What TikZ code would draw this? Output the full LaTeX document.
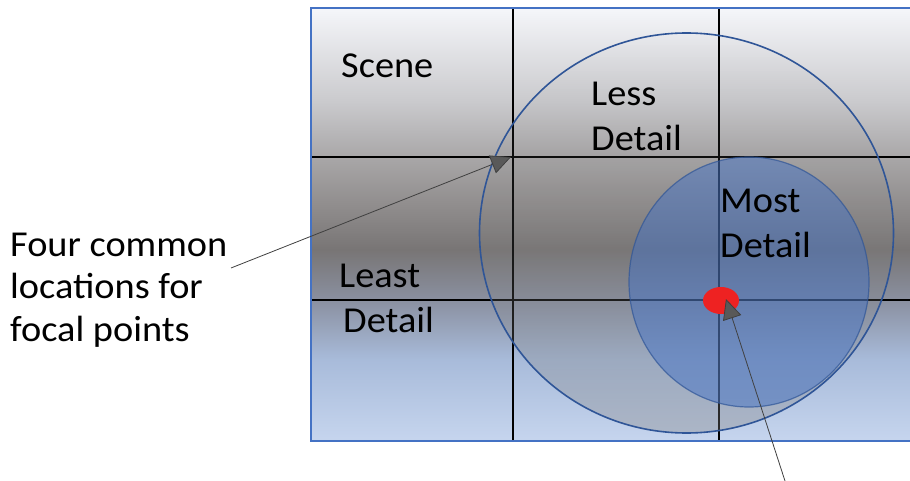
\documentclass[tikz,border=0pt]{standalone}
\usepackage{fontspec}
\setmainfont{Carlito}[FakeStretch=1.05]
\usetikzlibrary{arrows.meta, positioning, fadings}

\definecolor{skyA}{HTML}{F5F6FA}
\definecolor{skyB}{HTML}{CBCBCE}
\definecolor{skyC}{HTML}{A9A7A8}
\definecolor{skyD}{HTML}{8F8C8C}
\definecolor{skyE}{HTML}{787575}
\definecolor{skyF}{HTML}{8A90A0}
\definecolor{skyG}{HTML}{A8BBDA}
\definecolor{skyH}{HTML}{C6D5EE}
\definecolor{frameblue}{HTML}{4472C4}
\definecolor{ringblue}{HTML}{2F5597}
\definecolor{dotred}{HTML}{EE2222}
\definecolor{lead}{HTML}{404040}
\definecolor{leadhead}{HTML}{595959}

\pgfdeclareverticalshading{scenefade}{100bp}{%
  color(0bp)=(skyH); color(25bp)=(skyH); color(34.4bp)=(skyG);
  color(41.3bp)=(skyF); color(47.1bp)=(skyE); color(52bp)=(skyD);
  color(57.8bp)=(skyC); color(64.4bp)=(skyB); color(75bp)=(skyA);
  color(100bp)=(skyA)}

\tikzset{
  gridline/.style={line width=2.8pt, black},
  lbl/.style={font=\fontsize{36.5}{45}\selectfont, inner sep=0pt, anchor=base west, align=left},
  pointer/.style={draw=lead, line width=0.8pt, -{Triangle[length=20pt, width=19pt, fill=leadhead]}},
}

\begin{document}
\begin{tikzpicture}[x=1pt, y=-1pt]
  \useasboundingbox (0,0) rectangle (910,481);

  % Draw the scene
  \shade[shading=scenefade] (311,8) rectangle (911,441);

  % Draw the thirds
  \draw[gridline] (513,8) -- (513,441);
  \draw[gridline] (719,8) -- (719,441);
  \draw[gridline] (311,157) -- (911,157);
  \draw[gridline] (311,300) -- (911,300);

  % Draw the detail rings
  \fill[gray, fill opacity=0.35, path fading=north] (686.5,233) ellipse [x radius=207, y radius=200];
  \draw[ringblue, line width=1.6pt] (686.5,233) ellipse [x radius=207, y radius=200];
  \filldraw[fill=frameblue, fill opacity=0.5, draw=ringblue, draw opacity=0.7, line width=1.2pt]
    (749,282) ellipse [x radius=120, y radius=125];

  % Draw the frame and the focal point
  \draw[frameblue, line width=1.2pt] (311,8) rectangle (911,441);
  \fill[dotred] (721,300.5) ellipse [x radius=18, y radius=13.5];

  % Labels (base is the last line)
  \node[lbl] (scene) at (341,78) {Scene};
  \node[lbl] (less) at (591,151) {Less\\Detail};
  \node[lbl] (most) at (720,257) {Most\\Detail};
  \node[lbl] (least) at (339,332) {Least\\\hspace*{4pt}Detail};
  \node[lbl, font=\fontsize{36.5}{42.5}\selectfont] (focal) at (10,341) {Four common\\locations for\\focal points};

  % Pointers
  \coordinate (focalTail) at (231,268);
  \coordinate (gridHit) at (511,157);
  \coordinate (dotTail) at (785,481);
  \coordinate (dotHit) at (726,299);
  \draw[pointer] (focalTail) -- (gridHit);
  \draw[pointer] (dotTail) -- (dotHit);
\end{tikzpicture}
\end{document}
